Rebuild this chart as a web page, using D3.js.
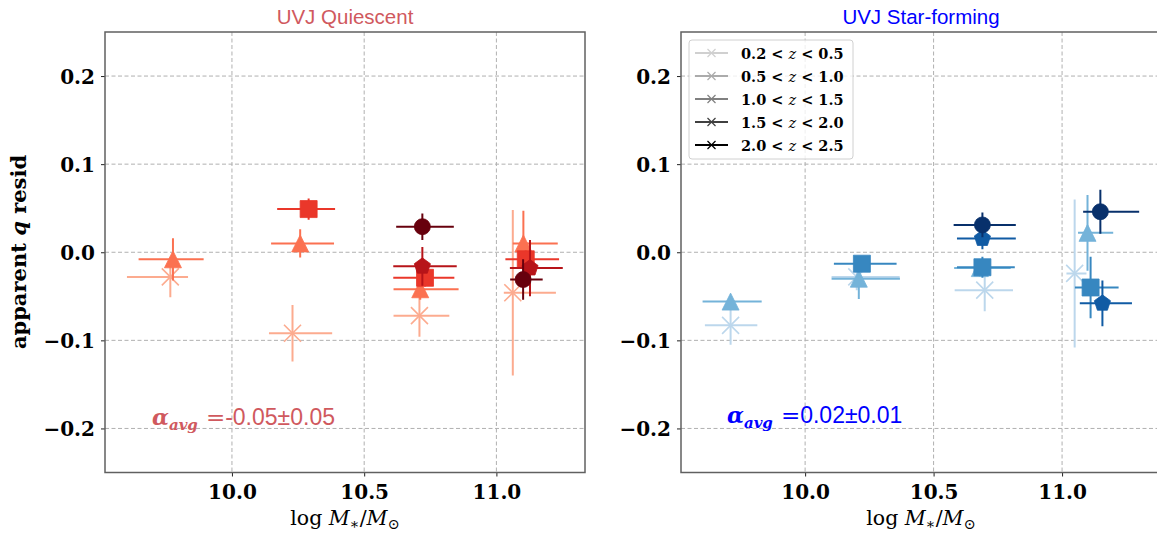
<!DOCTYPE html>
<html lang="en">
  <head>
    <title>apparent q resid vs mass</title>
    <script src="https://d3js.org/d3.v7.min.js"></script>
    <style>
      body { margin: 0; background: white; }
      .grid line { stroke: #b0b0b0; stroke-width: 1; stroke-dasharray: 4, 2.5; }
      .tick-label { font-family: "DejaVu Serif"; font-weight: bold; font-size: 20px; fill: black; }
      .title { font-family: "Liberation Sans"; font-size: 20.5px; text-anchor: middle; }
    </style>
  </head>
  <body>
    <div id="chart"></div>
    <script>
      // Redshift bins (one colour / marker per bin)
      let zBins = ["0.2 < z < 0.5", "0.5 < z < 1.0", "1.0 < z < 1.5", "1.5 < z < 2.0", "2.0 < z < 2.5"];
      let markers = ["x", "triangle", "square", "pentagon", "circle"];
      let redColors = ["#fcab8f", "#fb7151", "#ea372a", "#b71419", "#67000d"];
      let blueColors = ["#bcd7ec", "#74b3d9", "#3787c0", "#105ba4", "#08306b"];
      let legendGreys = ["#d0d0d0", "#ababab", "#808080", "#404040", "#000000"];

      let yTicks = [-0.2, -0.1, 0.0, 0.1, 0.2];
      let xTicks = [10.0, 10.5, 11.0];

      // UVJ Quiescent, one array per redshift bin
      let quiMass = [[9.767, 10.229, 10.709, 11.062], [9.777, 10.258, 10.712, 11.102], [10.29, 10.73, 11.111], [10.72, 11.127], [10.72, 11.101]];
      let quiResid = [[-0.028, -0.092, -0.072, -0.046], [-0.008, 0.010, -0.042, 0.010], [0.049, -0.029, -0.008], [-0.016, -0.018], [0.029, -0.031]];
      let quiMassLo = [[0.164, 0.089, 0.098, 0.034], [0.130, 0.110, 0.101, 0.040], [0.119, 0.120, 0.077], [0.110, 0.076], [0.099, 0.049]];
      let quiMassHi = [[0.067, 0.150, 0.113, 0.163], [0.116, 0.128, 0.145, 0.130], [0.100, 0.111, 0.126], [0.130, 0.124], [0.119, 0.074]];
      let quiResidErr = [[0.023, 0.032, 0.024, 0.094], [0.024, 0.016, 0.012, 0.037], [0.012, 0.010, 0.010], [0.022, 0.032], [0.015, 0.023]];

      // UVJ Star-forming
      let sfMass = [[9.710, 10.201, 10.699, 11.049], [9.710, 10.209, 10.680, 11.099], [10.221, 10.690, 11.111], [10.690, 11.157], [10.690, 11.149]];
      let sfResid = [[-0.083, -0.028, -0.043, -0.024], [-0.056, -0.030, -0.018, 0.022], [-0.013, -0.017, -0.040], [0.0155, -0.058], [0.031, 0.046]];
      let sfMassLo = [[0.100, 0.098, 0.117, 0.032], [0.109, 0.106, 0.100, 0.037], [0.109, 0.099, 0.061], [0.099, 0.088], [0.112, 0.067]];
      let sfMassHi = [[0.104, 0.167, 0.110, 0.046], [0.121, 0.160, 0.120, 0.100], [0.135, 0.126, 0.109], [0.130, 0.115], [0.130, 0.151]];
      let sfResidErr = [[0.022, 0.015, 0.024, 0.084], [0.005, 0.023, 0.010, 0.043], [0.005, 0.012, 0.035], [0.012, 0.026], [0.014, 0.025]];

      let alphaAvg = ["-0.05±0.05", "0.02±0.01"];

      let width = 1157;
      let height = 535;
      let plotTop = 32, plotBottom = 472.5;

      let panels = [
        { left: 105, right: 585, xdom: [9.52, 11.335], title: "UVJ Quiescent", tcolor: "#d0595e",
          mass: quiMass, resid: quiResid, lo: quiMassLo, hi: quiMassHi, yerr: quiResidErr,
          colors: redColors, alpha: alphaAvg[0], alphaX: 152, alphaY: 425, ylabel: true },
        { left: 681, right: 1161, xdom: [9.517, 11.385], title: "UVJ Star-forming", tcolor: "#0000ff",
          mass: sfMass, resid: sfResid, lo: sfMassLo, hi: sfMassHi, yerr: sfResidErr,
          colors: blueColors, alpha: alphaAvg[1], alphaX: 727, alphaY: 423, legend: true }
      ];

      let svg = d3.select("#chart").append("svg").attr("width", width).attr("height", height);

      function markerPath(type, s) {
        if (type === "x") return `M${-s},${-s}L${s},${s}M${-s},${s}L${s},${-s}`;
        if (type === "triangle") return `M0,${-s}L${s},${s}L${-s},${s}Z`;
        if (type === "square") return `M${-s},${-s}H${s}V${s}H${-s}Z`;
        if (type === "pentagon") {
          let pts = d3.range(5).map(k => {
            let a = -Math.PI / 2 + k * 2 * Math.PI / 5;
            return [s * Math.cos(a), s * Math.sin(a)];
          });
          return "M" + pts.map(p => p.join(",")).join("L") + "Z";
        }
        return d3.arc()({ innerRadius: 0, outerRadius: s - 0.5, startAngle: 0, endAngle: 2 * Math.PI });
      }

      panels.forEach(p => {
        let x = d3.scaleLinear().domain(p.xdom).range([p.left, p.right]);
        let y = d3.scaleLinear().domain([-0.25, 0.25]).range([plotBottom, plotTop]);
        let g = svg.append("g");

        // grid
        let grid = g.append("g").attr("class", "grid");
        grid.selectAll(".gx").data(xTicks).enter().append("line")
          .attr("x1", d => x(d)).attr("x2", d => x(d)).attr("y1", plotTop).attr("y2", plotBottom);
        grid.selectAll(".gy").data(yTicks).enter().append("line")
          .attr("x1", p.left).attr("x2", p.right).attr("y1", d => y(d)).attr("y2", d => y(d));

        // axes
        let xAxis = g.append("g").attr("transform", `translate(0,${plotBottom})`)
          .call(d3.axisBottom(x).tickValues(xTicks).tickSize(4).tickFormat(d3.format(".1f")));
        let yAxis = g.append("g").attr("transform", `translate(${p.left},0)`)
          .call(d3.axisLeft(y).tickValues(yTicks).tickSize(4).tickFormat(d => d3.format(".1f")(d).replace("-", "\u2212\u2009")));
        [xAxis, yAxis].forEach(a => {
          a.select(".domain").remove();
          a.selectAll(".tick line").attr("stroke", "#222").attr("stroke-width", 1);
          a.selectAll(".tick text").attr("class", "tick-label");
        });
        xAxis.selectAll(".tick text").attr("dy", null).attr("y", 26);
        yAxis.selectAll(".tick text").attr("x", -10).attr("dy", "0.36em");

        // frame
        g.append("rect").attr("x", p.left).attr("y", plotTop)
          .attr("width", p.right - p.left).attr("height", plotBottom - plotTop)
          .attr("fill", "none").attr("stroke", "#606060").attr("stroke-width", 1.5);

        // points
        let clip = "clip" + p.left;
        svg.append("clipPath").attr("id", clip).append("rect")
          .attr("x", p.left).attr("y", plotTop).attr("width", p.right - p.left).attr("height", plotBottom - plotTop);
        let pts = g.append("g").attr("clip-path", `url(#${clip})`);
        zBins.forEach((b, i) => {
          let rows = p.mass[i].map((m, j) => ({ m: m, r: p.resid[i][j], lo: p.lo[i][j], hi: p.hi[i][j], e: p.yerr[i][j] }));
          let col = p.colors[i];
          let bg = pts.append("g");
          rows.forEach(d => {
            bg.append("line").attr("x1", x(d.m - d.lo)).attr("x2", x(d.m + d.hi))
              .attr("y1", y(d.r)).attr("y2", y(d.r)).attr("stroke", col).attr("stroke-width", 2);
            bg.append("line").attr("x1", x(d.m)).attr("x2", x(d.m))
              .attr("y1", y(d.r - d.e)).attr("y2", y(d.r + d.e)).attr("stroke", col).attr("stroke-width", 2);
          });
          bg.selectAll("path").data(rows).enter().append("path")
            .attr("transform", d => `translate(${x(d.m)},${y(d.r)})`)
            .attr("d", markerPath(markers[i], 8.5))
            .attr("fill", markers[i] === "x" ? "none" : col)
            .attr("stroke", col)
            .attr("stroke-width", markers[i] === "x" ? 1.6 : 0.8);
        });

        // title
        svg.append("text").attr("class", "title").attr("x", (p.left + p.right) / 2).attr("y", 24)
          .attr("fill", p.tcolor).text(p.title);

        // x label
        let xl = svg.append("text").attr("x", (p.left + p.right) / 2).attr("y", 525)
          .attr("text-anchor", "middle").attr("font-family", "DejaVu Serif").attr("font-size", 20.5);
        xl.append("tspan").text("log ");
        xl.append("tspan").attr("font-style", "italic").text("M");
        xl.append("tspan").attr("font-size", 14.5).attr("dy", 4).text("\u2217");
        xl.append("tspan").attr("dy", -4).text("/");
        xl.append("tspan").attr("font-style", "italic").text("M");
        xl.append("tspan").attr("font-size", 14.5).attr("dy", 4).text("\u2299");

        // alpha annotation
        let at = svg.append("text").attr("x", p.alphaX).attr("y", p.alphaY).attr("fill", p.tcolor);
        at.append("tspan").attr("font-family", "DejaVu Serif").attr("font-weight", "bold")
          .attr("font-style", "italic").attr("font-size", 22).text("\u03b1");
        at.append("tspan").attr("font-family", "DejaVu Serif").attr("font-weight", "bold")
          .attr("font-style", "italic").attr("font-size", 15).attr("dy", 5).text("avg");
        at.append("tspan").attr("font-family", "DejaVu Serif").attr("font-size", 23).attr("dy", -5).attr("dx", 8).text("=");
        at.append("tspan").attr("font-family", "Liberation Sans").attr("font-size", 23).text(p.alpha);

        // y label
        if (p.ylabel) {
          let yl = svg.append("text").attr("transform", "translate(26,252) rotate(-90)")
            .attr("text-anchor", "middle").attr("font-family", "DejaVu Serif").attr("font-weight", "bold").attr("font-size", 21);
          yl.append("tspan").text("apparent ");
          yl.append("tspan").attr("font-style", "italic").text("q");
          yl.append("tspan").text(" resid");
        }

        // legend
        if (p.legend) {
          let lg = svg.append("g").attr("transform", "translate(689,40)");
          lg.append("rect").attr("width", 164).attr("height", 119).attr("rx", 3)
            .attr("fill", "white").attr("fill-opacity", 0.8).attr("stroke", "#d0d0d0");
          zBins.forEach((b, i) => {
            let ry = 13 + i * 23;
            let row = lg.append("g").attr("transform", `translate(0,${ry})`);
            row.append("line").attr("x1", 6).attr("x2", 39).attr("stroke", legendGreys[i]).attr("stroke-width", 1.8);
            row.append("path").attr("transform", "translate(22.5,0)").attr("d", markerPath("x", 4))
              .attr("stroke", legendGreys[i]).attr("stroke-width", 1.2).attr("fill", "none");
            let parts = b.split(" ");
            let t = row.append("text").attr("x", 52).attr("y", 5.5).attr("font-family", "DejaVu Serif")
              .attr("font-weight", "bold").attr("font-size", 14.5);
            t.append("tspan").text(parts[0] + " " + parts[1] + " ");
            t.append("tspan").attr("font-style", "italic").attr("font-weight", "normal").text(parts[2]);
            t.append("tspan").text(" " + parts[3] + " " + parts[4]);
          });
        }
      });
    </script>
  </body>
</html>
